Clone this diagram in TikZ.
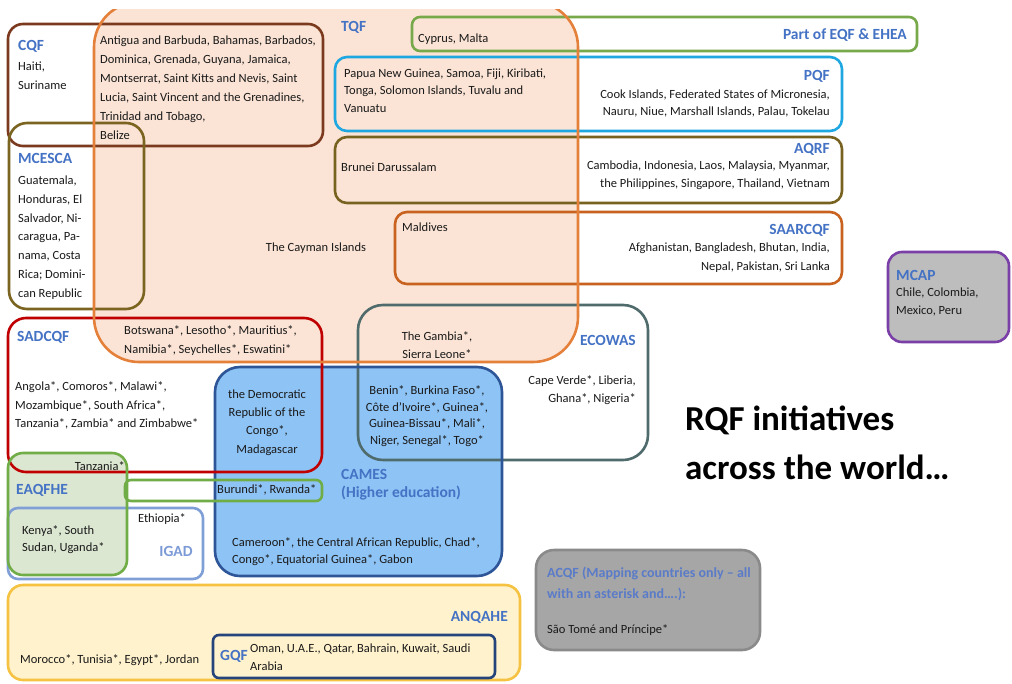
\documentclass[tikz,border=0pt]{standalone}
\usepackage{fontspec}
\setmainfont{Carlito}
\definecolor{tqfline}{HTML}{E5803A}
\definecolor{tqffill}{HTML}{FBE4D5}
\definecolor{cqfc}{HTML}{7B3A1E}
\definecolor{mcescac}{HTML}{7A6420}
\definecolor{eqfc}{HTML}{77A84A}
\definecolor{pqfc}{HTML}{1EA7E1}
\definecolor{aqrfc}{HTML}{786220}
\definecolor{saarc}{HTML}{C8621E}
\definecolor{mcapline}{HTML}{7B3FA8}
\definecolor{mcapfill}{HTML}{BDBDBD}
\definecolor{sadcc}{HTML}{C00000}
\definecolor{ecowasc}{HTML}{4F6B6B}
\definecolor{camesfill}{HTML}{8DC3F5}
\definecolor{camesline}{HTML}{2E5597}
\definecolor{eaqfill}{HTML}{DCE7D2}
\definecolor{eaqline}{HTML}{70AD47}
\definecolor{igadc}{HTML}{7F9FD6}
\definecolor{anqline}{HTML}{F5C242}
\definecolor{anqfill}{HTML}{FFF2CC}
\definecolor{gqfc}{HTML}{26447C}
\definecolor{acqffill}{HTML}{A6A6A6}
\definecolor{acqfline}{HTML}{8A8A8A}
\definecolor{lblblue}{HTML}{4472C4}
\definecolor{igadlbl}{HTML}{7B9AD6}
\definecolor{acqflbl}{HTML}{5A7BC8}
\definecolor{txtc}{HTML}{1A1A1A}
\newcommand\txtfont{\fontsize{12.5}{18.5}\selectfont}
\newcommand\lblfont{\fontsize{15.5}{18}\selectfont\bfseries}
\begin{document}
\begin{tikzpicture}[x=1pt,y=-1pt,
  frame/.style={line width=2.6pt, rounded corners=#1},
  frame/.default=12pt,
  txt/.style={inner sep=0pt, font=\txtfont, text=txtc, align=left},
  lbl/.style={inner sep=0pt, font=\lblfont, text=lblblue, align=left}]
\useasboundingbox (0,0) rectangle (1012,683);
\fill[white] (0,0) rectangle (1012,683);
% ---------- fills ----------
\begin{scope}
  \clip (0,9) rectangle (1012,683);
  \fill[tqffill, rounded corners=45pt] (94,2) rectangle (578,362);
\end{scope}
\fill[camesfill, rounded corners=25pt] (215,367) rectangle (502,576);
\fill[mcapfill, rounded corners=14pt] (888,252) rectangle (1009,342);
\fill[anqfill, rounded corners=15pt] (8,585) rectangle (520,680);
\fill[acqffill, rounded corners=18pt] (536,550) rectangle (760,650);
\fill[eaqfill, rounded corners=15pt] (8,453) rectangle (127,575);
% ---------- frames ----------
\draw[frame=15pt, cqfc] (8,24) rectangle (323,146);
\draw[frame=18pt, mcescac] (9,123) rectangle (144,309);
\draw[frame=8pt, eqfc] (412,17) rectangle (917,51);
\draw[frame=12pt, pqfc] (335,57) rectangle (842,131);
\draw[frame=12pt, aqrfc] (335,137) rectangle (842,203);
\draw[frame=12pt, saarc] (395,212) rectangle (842,284);
\draw[frame=14pt, mcapline] (888,252) rectangle (1009,342);
\draw[frame=25pt, ecowasc] (358,305) rectangle (648,460);
\draw[frame=25pt, camesline] (215,367) rectangle (502,576);
\draw[frame=18pt, sadcc] (8,318) rectangle (322,472);
\draw[frame=10pt, igadc] (8,508) rectangle (203,579);
\draw[frame=6pt, eaqline] (125,480) rectangle (322,501);
\draw[frame=15pt, eaqline] (8,453) rectangle (127,575);
\draw[frame=15pt, anqline] (8,585) rectangle (520,680);
\draw[frame=6pt, gqfc] (213,635) rectangle (495,678);
\draw[frame=18pt, acqfline] (536,550) rectangle (760,650);
\begin{scope}
  \clip (0,9) rectangle (1012,683);
  \draw[frame=45pt, tqfline] (94,2) rectangle (578,362);
\end{scope}
% ---------- texts ----------
\node[lbl, anchor=west] (cqfl) at (18,46) {CQF};
\node[txt, anchor=west, font=\fontsize{12.5}{19}\selectfont] (cqft) at (18,75.5) {Haiti,\\Suriname};
\node[txt, anchor=west, font=\fontsize{12.5}{19}\selectfont] (carib) at (100,87.5) {Antigua and Barbuda, Bahamas, Barbados,\\Dominica, Grenada, Guyana, Jamaica,\\Montserrat, Saint Kitts and Nevis, Saint\\Lucia, Saint Vincent and the Grenadines,\\Trinidad and Tobago,\\Belize};
\node[lbl, anchor=west] (mcescal) at (18,158) {MCESCA};
\node[txt, anchor=west, font=\fontsize{12.5}{18.8}\selectfont] (mcescat) at (18,237.5) {Guatemala,\\Honduras, El\\Salvador, Ni-\\caragua, Pa-\\nama, Costa\\Rica; Domini-\\can Republic};
\node[lbl, anchor=west] (tqfl) at (341,27) {TQF};
\node[txt, anchor=west] (cyprus) at (418,39) {Cyprus, Malta};
\node[lbl, anchor=east] (eqfl) at (907,35) {Part of EQF \& EHEA};
\node[txt, anchor=west, font=\fontsize{12.5}{17.5}\selectfont] (pacific) at (344,90.5) {Papua New Guinea, Samoa, Fiji, Kiribati,\\Tonga, Solomon Islands, Tuvalu and\\Vanuatu};
\node[lbl, anchor=east] (pqfl) at (830,76) {PQF};
\node[txt, anchor=east, align=right, font=\fontsize{12.5}{17}\selectfont] (pqft) at (830,103) {Cook Islands, Federated States of Micronesia,\\Nauru, Niue, Marshall Islands, Palau, Tokelau};
\node[txt, anchor=west] (brunei) at (341,167) {Brunei Darussalam};
\node[lbl, anchor=east] (aqrfl) at (830,149) {AQRF};
\node[txt, anchor=east, align=right, font=\fontsize{12.5}{18}\selectfont] (aqrft) at (830,175) {Cambodia, Indonesia, Laos, Malaysia, Myanmar,\\the Philippines, Singapore, Thailand, Vietnam};
\node[txt, anchor=west] (maldives) at (402,227) {Maldives};
\node[lbl, anchor=east] (saarl) at (830,230) {SAARCQF};
\node[txt, anchor=east, align=right, font=\fontsize{12.5}{19}\selectfont] (saart) at (830,257.5) {Afghanistan, Bangladesh, Bhutan, India,\\Nepal, Pakistan, Sri Lanka};
\node[txt] (cayman) at (316,248) {The Cayman Islands};
\node[lbl, anchor=west] (mcapl) at (896,275) {MCAP};
\node[txt, anchor=west, font=\fontsize{12.5}{18}\selectfont] (mcapt) at (896,302) {Chile, Colombia,\\Mexico, Peru};
\node[lbl, anchor=west] (sadcl) at (17,337) {SADCQF};
\node[txt, anchor=west, font=\fontsize{12.5}{19}\selectfont] (botswana) at (124,340.5) {Botswana*, Lesotho*, Mauritius*,\\Namibia*, Seychelles*, Eswatini*};
\node[txt, anchor=west] (angola) at (15,405.5) {Angola*, Comoros*, Malawi*,\\Mozambique*, South Africa*,\\Tanzania*, Zambia* and Zimbabwe*};
\node[lbl, anchor=east] (ecowasl) at (636,340) {ECOWAS};
\node[txt, align=center, font=\fontsize{12.5}{18}\selectfont] (gambia) at (437,345) {The Gambia*,\\Sierra Leone*};
\node[txt, anchor=east, align=right, font=\fontsize{12.5}{18}\selectfont] (capeverde) at (636,390) {Cape Verde*, Liberia,\\Ghana*, Nigeria*};
\node[txt, align=center, font=\fontsize{12.5}{18.3}\selectfont] (drc) at (267,422.5) {the Democratic\\Republic of the\\Congo*,\\Madagascar};
\node[txt, align=center, font=\fontsize{12.5}{16.7}\selectfont] (benin) at (427,416) {Benin*, Burkina Faso*,\\C\^ote d'Ivoire*, Guinea*,\\Guinea-Bissau*, Mali*,\\Niger, Senegal*, Togo*};
\node[lbl, anchor=west] (camesl) at (341,485) {CAMES\\(Higher education)};
\node[txt, anchor=west, font=\fontsize{12.5}{17.5}\selectfont] (cameroon) at (232,551.5) {Cameroon*, the Central African Republic, Chad*,\\Congo*, Equatorial Guinea*, Gabon};
\node[txt, anchor=east] (tanzania) at (125,466) {Tanzania*};
\node[lbl, anchor=west] (eaqfl) at (16,490) {EAQFHE};
\node[txt, anchor=west] (burundi) at (217,490) {Burundi*, Rwanda*};
\node[txt] (ethiopia) at (162,519) {Ethiopia*};
\node[lbl, text=igadlbl] (igadl) at (176,551) {IGAD};
\node[txt, anchor=west, font=\fontsize{12.5}{17}\selectfont] (kenya) at (22,539.5) {Kenya*, South\\Sudan, Uganda*};
\node[lbl, anchor=east] (anql) at (508,617) {ANQAHE};
\node[txt, anchor=west] (morocco) at (20,660) {Morocco*, Tunisia*, Egypt*, Jordan};
\node[lbl, anchor=west] (gqfl) at (220,656) {GQF};
\node[txt, anchor=west, font=\fontsize{12.5}{18}\selectfont] (gulf) at (250,657) {Oman, U.A.E., Qatar, Bahrain, Kuwait, Saudi\\Arabia};
\node[lbl, anchor=west, text=acqflbl, font=\fontsize{14}{21}\selectfont\bfseries] (acqfl) at (547,583.5) {ACQF (Mapping countries only -- all\\with an asterisk and\dots.):};
\node[txt, anchor=west] (saotome) at (547,630) {S\~ao Tom\'e and Pr\'incipe*};
\node[inner sep=0pt, anchor=west, align=left, text=black, font=\fontsize{35}{49}\selectfont\bfseries] (title) at (685,442.5) {RQF initiatives\\across the world\dots};
\end{tikzpicture}
\end{document}
